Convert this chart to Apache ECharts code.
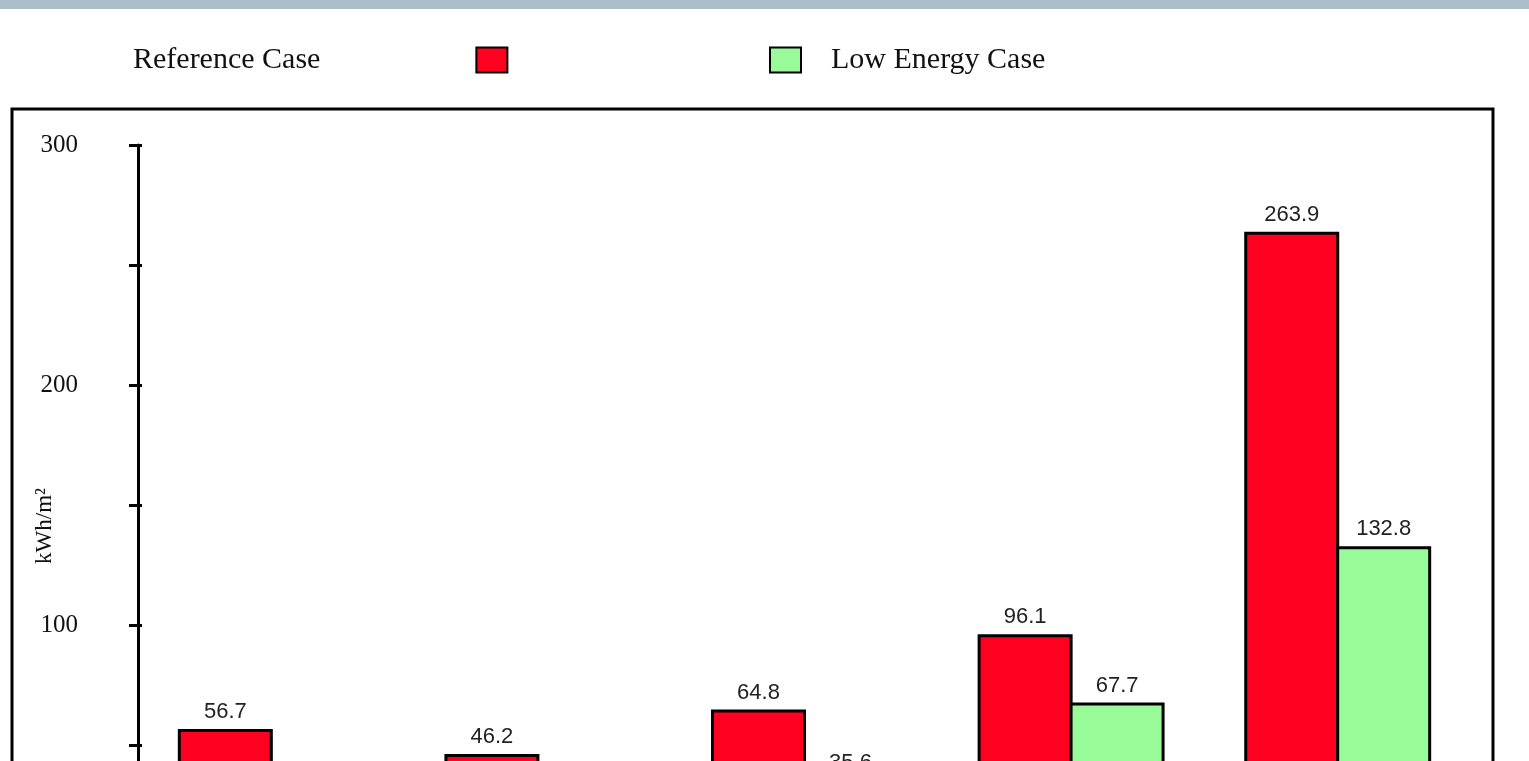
<!DOCTYPE html>
<html>
<head>
<meta charset="utf-8">
<title>kWh/m²</title>
<script src="https://cdn.jsdelivr.net/npm/echarts@6/dist/echarts.min.js"></script>
<style>
  html, body { margin: 0; padding: 0; background: #fff; overflow: hidden; }
  #wrap { width: 1529px; height: 761px; overflow: hidden; position: relative; }
  #chart { width: 1529px; height: 900px; }
</style>
</head>
<body>
<div id="wrap"><div id="chart"></div></div>
<script>
// Energy use per floor area, two cases per group
const categories = ['1', '2', '3', '4', '5'];
const referenceCase = [56.7, 46.2, 64.8, 96.1, 263.9];
const lowEnergyCase = [24.9, 19.6, 35.6, 67.7, 132.8];
const yTicks = { min: 0, max: 300, step: 50, labelStep: 100 };

const chart = echarts.init(document.getElementById('chart'), null, { renderer: 'canvas' });

const serif = 'Liberation Serif, Times New Roman, serif';
const sans = 'Liberation Sans, Arial, sans-serif';

const barLabel = {
  show: true,
  position: 'top',
  distance: 6,
  fontFamily: sans,
  fontSize: 22,
  color: '#222',
  formatter: p => p.value.toFixed(1)
};

chart.setOption({
  animation: false,
  backgroundColor: '#fff',
  graphic: [
    { type: 'rect', left: 0, top: 0, z: -1, shape: { width: 1529, height: 9 }, style: { fill: '#a9bec9' } },
    { type: 'rect', z: -1, shape: { x: 12, y: 109, width: 1481, height: 900 },
      style: { fill: 'none', stroke: '#000', lineWidth: 3 } }
  ],
  legend: [
    {
      data: ['Reference Case'],
      left: 133, top: 45,
      padding: 0,
      align: 'right',
      itemWidth: 31, itemHeight: 25,
      itemGap: 0,
      icon: 'rect',
      selectedMode: false,
      textStyle: { fontFamily: serif, fontSize: 30, color: '#111', padding: [0, 151, 10, 0] }
    },
    {
      data: ['Low Energy Case'],
      left: 769, top: 45,
      padding: 0,
      itemWidth: 31, itemHeight: 25,
      itemGap: 0,
      icon: 'rect',
      selectedMode: false,
      textStyle: { fontFamily: serif, fontSize: 30, color: '#111', padding: [0, 0, 10, 25] }
    }
  ],
  grid: { left: 138, right: 58, top: 145, bottom: 35, containLabel: false },
  xAxis: {
    type: 'category',
    data: categories,
    axisLine: { lineStyle: { color: '#000', width: 3 } },
    axisTick: { show: false },
    axisLabel: { show: false }
  },
  yAxis: [
    {
      type: 'value',
      position: 'left',
      min: yTicks.min, max: yTicks.max, interval: yTicks.step,
      name: 'kWh/m²',
      nameLocation: 'middle',
      nameRotate: 90,
      nameGap: 82,
      nameMoveOverlap: false,
      nameTextStyle: { fontFamily: serif, fontSize: 23, color: '#111', padding: [0, 42, 0, 0] },
      axisLine: { show: true, lineStyle: { color: '#000', width: 3 } },
      axisTick: { show: true, length: 9, lineStyle: { color: '#000', width: 3 } },
      axisLabel: {
        margin: 60,
        fontFamily: serif, fontSize: 25, color: '#111',
        padding: [0, 0, 5, 0],
        formatter: v => (v % yTicks.labelStep === 0 ? String(v) : '')
      },
      splitLine: { show: false }
    },
    {
      type: 'value',
      position: 'left',
      min: yTicks.min, max: yTicks.max, interval: yTicks.step,
      axisLine: { show: false },
      axisTick: { show: true, inside: true, length: 4, lineStyle: { color: '#000', width: 3 } },
      axisLabel: { show: false },
      splitLine: { show: false }
    }
  ],
  series: [
    {
      name: 'Reference Case',
      type: 'bar',
      data: referenceCase,
      barWidth: 95,
      barGap: '-3.2%',
      itemStyle: { color: '#ff0020', borderColor: '#000', borderWidth: 3 },
      label: barLabel
    },
    {
      name: 'Low Energy Case',
      type: 'bar',
      data: lowEnergyCase,
      barWidth: 95,
      barGap: '-3.2%',
      itemStyle: { color: '#98fb98', borderColor: '#000', borderWidth: 3 },
      label: barLabel
    }
  ]
});
</script>
</body>
</html>
